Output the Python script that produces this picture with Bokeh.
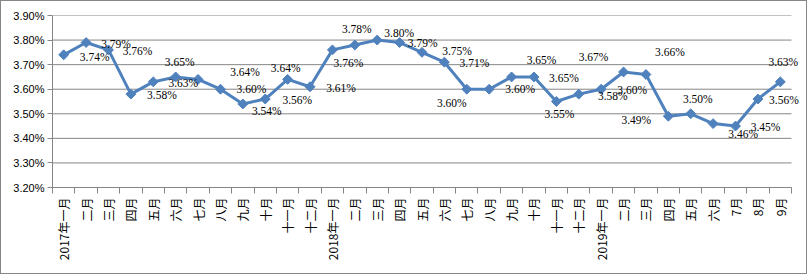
import math
from bokeh.plotting import figure
from bokeh.models import FixedTicker, Range1d, ColumnDataSource, LabelSet
from bokeh.embed import file_html
from bokeh.resources import INLINE

# ---- data ----
categories = [
    "2017年一月", "二月", "三月", "四月", "五月", "六月", "七月", "八月", "九月", "十月", "十一月", "十二月",
    "2018年一月", "二月", "三月", "四月", "五月", "六月", "七月", "八月", "九月", "十月", "十一月", "十二月",
    "2019年一月", "二月", "三月", "四月", "五月", "六月", "7月", "8月", "9月",
]
rates = [
    3.74, 3.79, 3.76, 3.58, 3.63, 3.65, 3.64, 3.60, 3.54, 3.56, 3.64, 3.61,
    3.76, 3.78, 3.80, 3.79, 3.75, 3.71, 3.60, 3.60, 3.65, 3.65, 3.55, 3.58,
    3.60, 3.67, 3.66, 3.49, 3.50, 3.46, 3.45, 3.56, 3.63,
]
y_ticks = [3.2, 3.3, 3.4, 3.5, 3.6, 3.7, 3.8, 3.9]
y_tick_labels = ["3.20%", "3.30%", "3.40%", "3.50%", "3.60%", "3.70%", "3.80%", "3.90%"]

# ---- label placement (screen-pixel offsets, styling only) ----
label_dx = [31, 30, 29, 31, 30, 4, 47, 31, 24, 32, -2, 31,
            16, 2, 22, 23, 35, 30, -15, 31, 30, 30, 3, 34,
            31, -30, 24, -32, 7, 30, 30, 26, 3]
label_dy = [2, 1, 1, 1, 1, -15, -7, 0, 7, 1, -11, 1,
            13, -16, -7, 0, -1, 1, 14, 0, -17, 1, 12, 2,
            1, -15, -22, 4, -15, 10, 1, 1, -20]

n = len(categories)
xs = list(range(n))
src = ColumnDataSource(dict(
    x=xs, y=rates,
    label=[f"{v:.2f}%" for v in rates],
    dx=label_dx, dy=[-d for d in label_dy],
))

GRAY = "#868686"
BLUE = "#4F81BD"

W, H = 807, 274
LEFT, RIGHT, TOP, BOTTOM = 51, 1, 14, 88
PLOT_W = 739                      # width of the category area in px
FRAME_W = W - LEFT - RIGHT        # frame extends further so labels are not clipped
x_end = -0.5 + n * FRAME_W / PLOT_W

p = figure(width=W, height=H, output_backend="svg", toolbar_location=None,
           x_range=Range1d(-0.5, x_end), y_range=Range1d(y_ticks[0], y_ticks[-1]),
           min_border_left=LEFT, min_border_right=RIGHT,
           min_border_top=TOP, min_border_bottom=BOTTOM)
p.styles = {"border": "1px solid " + GRAY}
p.outline_line_color = None
p.background_fill_color = "white"
p.border_fill_color = "white"

# grid (drawn only across the category area)
p.xgrid.grid_line_color = None
p.ygrid.grid_line_color = None
p.segment(x0=[-0.5] * len(y_ticks), x1=[n - 0.5] * len(y_ticks), y0=y_ticks, y1=y_ticks,
          line_color=GRAY, line_width=1)

# y axis
p.yaxis.ticker = FixedTicker(ticks=y_ticks)
p.yaxis.major_label_overrides = {t: l for t, l in zip(y_ticks, y_tick_labels)}
p.yaxis.axis_line_color = GRAY
p.yaxis.major_tick_line_color = GRAY
p.yaxis.major_tick_out = 5
p.yaxis.major_tick_in = 0
p.yaxis.minor_tick_line_color = None
p.yaxis.major_label_standoff = 3
p.yaxis.major_label_text_font = "Liberation Sans"
p.yaxis.major_label_text_font_size = "11px"
p.yaxis.major_label_text_color = "#000000"

# x axis
p.xaxis.ticker = FixedTicker(ticks=xs, minor_ticks=[i - 0.5 for i in range(n + 1)])
p.xaxis.major_label_overrides = {i: c for i, c in zip(xs, categories)}
p.xaxis.bounds = (-0.5, n - 0.5)
p.xaxis.axis_line_color = GRAY
p.xaxis.major_tick_line_color = None
p.xaxis.minor_tick_line_color = GRAY
p.xaxis.minor_tick_out = 6
p.xaxis.minor_tick_in = 0
p.xaxis.major_tick_out = 6
p.xaxis.major_tick_in = 0
p.xaxis.major_label_orientation = math.pi / 2
p.xaxis.major_label_standoff = 4
p.xaxis.major_label_text_font = "Noto Sans CJK SC"
p.xaxis.major_label_text_font_size = "12px"
p.xaxis.major_label_text_color = "#000000"

# series
p.line(x="x", y="y", source=src, line_color=BLUE, line_width=3)
p.scatter(x="x", y="y", source=src, marker="square", angle=math.pi / 4, size=7,
          fill_color=BLUE, line_color=BLUE)
labels = LabelSet(x="x", y="y", text="label", x_offset="dx", y_offset="dy", source=src,
                  text_font="Liberation Sans", text_font_size="11.5px",
                  text_align="center", text_baseline="middle", text_color="#000000")
p.add_layout(labels)

open("out.html", "w").write(file_html(p, INLINE))
